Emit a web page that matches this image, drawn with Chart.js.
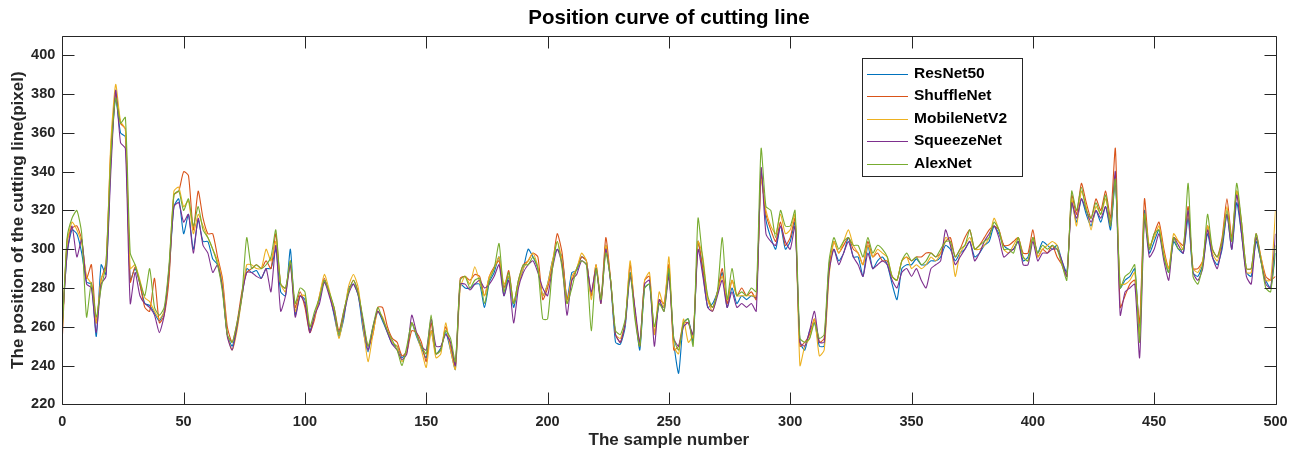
<!DOCTYPE html>
<html>
<head>
<meta charset="utf-8">
<script src="https://cdn.jsdelivr.net/npm/chart.js@4.4.1/dist/chart.umd.min.js"></script>
<style>
html,body{margin:0;padding:0;background:#fff;}
canvas{display:block;}
</style>
</head>
<body>
<canvas id="c" width="1299" height="452"></canvas>
<script>
// ---- Data (every 2nd sample) ----
const samples = Array.from({length: 251}, (_, i) => i * 2);
const seriesNames = ['ResNet50', 'ShuffleNet', 'MobileNetV2', 'SqueezeNet', 'AlexNet'];
const xTicks = [0, 50, 100, 150, 200, 250, 300, 350, 400, 450, 500];
const yTicks = [220, 240, 260, 280, 300, 320, 340, 360, 380, 400];
const titleText = 'Position curve of cutting line';
const xLabelText = 'The sample number';
const yLabelText = 'The position of the cutting line(pixel)';

const resnet50 = [
262,298,310,308,298,283,282,255,292,287,345,378,360,358,284,290,282,272,271,267,263,268,288,322,326,
308,318,300,315,304,304,295,292,280,256,250,260,275,290,288,289,285,290,290,300,278,276,300,266,276,
274,258,266,274,284,278,266,255,264,280,282,276,258,247,259,268,263,257,251,250,244,248,262,255,249,
244,258,246,249,257,248,238,282,280,280,282,282,270,283,288,296,276,286,270,282,290,300,296,290,276,
282,294,300,296,274,288,289,296,294,276,290,274,302,283,252,251,260,288,268,248,280,282,256,272,270,
288,252,236,262,264,252,304,288,270,272,278,288,270,280,272,276,274,276,275,340,315,306,300,312,300,
304,314,252,248,258,262,250,250,292,300,294,298,306,296,296,286,302,290,294,296,292,282,274,290,292,
292,295,292,292,294,294,296,302,300,294,298,300,304,296,298,302,304,312,308,302,300,300,304,294,296,
306,298,304,302,300,302,294,288,324,314,326,318,312,320,314,322,310,335,280,284,286,290,258,320,298,
304,310,296,288,304,300,298,316,288,286,292,308,296,292,300,318,300,324,308,288,286,304,294,284,280,
298];

const shufflenet = [
254,305,311,312,305,285,292,262,284,293,352,380,365,362,283,291,282,270,268,285,262,266,285,328,330,
340,338,310,330,316,308,308,296,285,260,252,262,278,288,290,292,290,294,290,308,282,280,292,270,278,
270,257,264,276,285,277,270,258,268,278,284,278,262,250,256,270,270,260,254,252,245,247,258,257,252,
242,262,246,248,260,250,240,285,286,284,287,286,276,286,291,294,280,289,272,284,292,294,298,296,274,
280,292,308,298,274,284,290,296,294,276,292,274,306,284,256,252,262,292,268,250,284,286,256,274,272,
292,248,250,262,262,254,304,290,274,270,278,290,272,284,276,280,276,278,274,338,318,310,304,314,302,
306,316,250,252,256,264,252,254,290,304,298,302,306,300,298,292,304,296,298,294,294,286,284,294,296,
294,296,296,298,298,296,298,304,306,296,300,306,310,300,302,306,310,312,310,302,302,304,306,298,298,
310,296,300,298,302,296,292,286,328,318,334,324,316,326,320,330,316,352,270,276,282,284,262,326,300,
308,314,300,290,306,304,302,322,290,290,294,312,300,296,306,326,306,330,314,290,290,308,296,286,284,
286];

const mobilenetv2 = [
260,303,314,310,303,286,282,262,285,290,355,385,366,362,290,292,284,275,273,268,264,268,290,330,332,
322,325,308,318,312,306,300,294,283,256,248,258,275,292,292,290,290,300,294,304,282,278,294,268,276,
276,260,265,276,287,279,268,254,266,281,287,280,260,242,256,268,265,258,252,250,242,248,262,256,248,
239,258,244,246,262,248,238,280,286,282,291,283,276,286,290,296,282,286,272,282,290,294,298,291,276,
282,294,304,294,272,286,290,298,294,274,292,272,302,284,256,254,262,294,268,252,284,288,256,278,270,
296,250,246,264,252,256,304,296,274,268,278,286,274,284,276,276,276,276,276,336,320,312,308,318,308,
310,318,240,250,254,264,245,248,286,304,298,304,310,302,298,292,302,296,300,298,296,286,284,294,296,
290,292,290,292,296,294,298,306,304,286,298,302,306,300,300,302,306,316,310,300,298,302,306,296,294,
306,296,300,302,304,302,292,286,326,312,330,322,310,322,318,326,314,338,282,282,284,288,256,318,302,
306,312,298,290,308,304,300,320,290,288,294,312,298,294,304,322,304,330,312,288,288,306,296,284,284,
320];

const squeezenet = [
262,298,312,296,305,282,280,257,282,286,340,382,355,352,272,288,276,272,270,266,257,266,290,322,324,
314,318,298,316,302,298,288,292,280,255,248,260,276,288,288,286,285,290,278,302,268,276,292,265,276,
272,257,266,272,283,276,267,257,266,277,282,276,262,248,260,268,264,257,251,248,243,246,266,257,250,
248,264,250,250,256,252,240,282,282,279,282,284,280,282,286,292,276,284,262,280,288,292,294,288,280,
276,290,300,292,266,284,287,294,292,278,290,272,300,283,256,252,262,286,270,252,282,284,250,274,268,
286,254,250,260,262,256,300,286,270,268,276,284,270,278,270,272,270,272,268,342,308,304,302,312,304,
300,312,252,250,258,268,252,252,288,300,292,298,304,296,292,286,298,290,292,294,292,284,280,288,290,
286,290,284,280,290,292,294,310,302,292,296,300,304,294,298,304,308,312,306,296,298,300,304,292,292,
304,294,298,298,300,300,294,286,324,316,326,320,314,320,316,322,312,340,266,278,280,282,244,316,296,
300,308,294,284,306,302,298,320,288,284,290,310,296,290,302,318,300,328,308,286,282,306,294,282,280,
308];

const alexnet = [
258,306,316,320,308,265,283,265,280,292,348,378,365,368,298,292,283,276,290,270,266,270,292,328,330,
320,326,312,322,310,306,300,292,278,256,252,262,276,306,290,292,290,292,296,310,282,280,294,272,280,
278,260,268,275,284,278,270,256,268,278,284,277,264,250,260,270,264,258,253,248,240,250,262,256,250,
246,266,246,248,258,254,242,284,286,280,284,285,272,284,290,303,278,288,272,284,292,292,296,290,264,
264,290,304,290,272,280,290,294,292,258,290,274,298,284,258,256,264,288,264,250,280,282,260,272,268,
290,254,248,262,264,250,316,294,276,270,278,306,274,290,276,278,276,280,278,352,322,320,306,320,312,
312,320,254,252,254,262,254,256,294,306,300,304,306,302,302,296,306,298,302,300,296,286,284,294,298,
294,296,292,294,298,296,300,304,304,296,300,302,310,300,302,304,306,314,310,300,300,298,306,296,294,
306,298,302,300,302,300,292,284,330,320,332,320,316,324,318,328,312,336,280,286,288,292,252,318,300,
308,310,296,288,306,300,300,334,286,282,292,318,300,296,304,320,304,334,314,290,290,308,294,280,278,
302];

const seriesValues = [resnet50, shufflenet, mobilenetv2, squeezenet, alexnet];
const seriesColors = ['#0072BD', '#D95319', '#EDB120', '#7E2F8E', '#77AC30'];

// ---- Styling ----
const FONT = '"Liberation Sans", Arial, Helvetica, sans-serif';
const AXIS_COLOR = '#262626';

const datasets = seriesNames.map((name, i) => ({
  label: name,
  data: samples.map((s, k) => ({x: s, y: seriesValues[i][k]})),
  borderColor: seriesColors[i],
  backgroundColor: seriesColors[i],
  borderWidth: 1.1,
  pointRadius: 0,
  tension: 0.2,
  fill: false,
  order: seriesNames.length - 1 - i
}));

const framePlugin = {
  id: 'matlabFrame',
  afterDraw(chart) {
    const {ctx, chartArea: a, scales} = chart;
    const x = scales.x, y = scales.y;
    ctx.save();
    ctx.strokeStyle = AXIS_COLOR;
    ctx.lineWidth = 1;
    const L = Math.round(a.left) + 0.5, R = Math.round(a.right) + 0.5;
    const T = Math.round(a.top) + 0.5, B = Math.round(a.bottom) + 0.5;
    ctx.beginPath();
    ctx.rect(L, T, R - L, B - T);
    ctx.stroke();
    const TL = 12;
    ctx.beginPath();
    xTicks.forEach(v => {
      const px = Math.round(x.getPixelForValue(v)) + 0.5;
      ctx.moveTo(px, B); ctx.lineTo(px, B - TL);
      ctx.moveTo(px, T); ctx.lineTo(px, T + TL);
    });
    yTicks.forEach(v => {
      const py = Math.round(y.getPixelForValue(v)) + 0.5;
      ctx.moveTo(L, py); ctx.lineTo(L + TL, py);
      ctx.moveTo(R, py); ctx.lineTo(R - TL, py);
    });
    ctx.stroke();

    // Title
    ctx.fillStyle = '#000';
    ctx.textAlign = 'center';
    ctx.textBaseline = 'middle';
    ctx.font = 'bold 20.5px ' + FONT;
    ctx.fillText(titleText, (a.left + a.right) / 2, 18);
    // X label
    ctx.fillStyle = AXIS_COLOR;
    ctx.font = 'bold 17px ' + FONT;
    ctx.fillText(xLabelText, (a.left + a.right) / 2, 440);
    // Y label
    ctx.save();
    ctx.translate(18, (a.top + a.bottom) / 2);
    ctx.rotate(-Math.PI / 2);
    ctx.fillText(yLabelText, 0, 0);
    ctx.restore();

    // Legend
    const bx = 862.5, by = 58.5, bw = 160, bh = 118;
    ctx.fillStyle = '#fff';
    ctx.fillRect(bx, by, bw, bh);
    ctx.strokeStyle = AXIS_COLOR;
    ctx.strokeRect(bx, by, bw, bh);
    ctx.font = 'bold 15.5px ' + FONT;
    ctx.textAlign = 'left';
    ctx.textBaseline = 'middle';
    seriesNames.forEach((name, i) => {
      const ly = 73.5 + i * 22.5;
      ctx.strokeStyle = seriesColors[i];
      ctx.lineWidth = 1;
      ctx.beginPath();
      ctx.moveTo(867, Math.round(ly) + 0.5);
      ctx.lineTo(908, Math.round(ly) + 0.5);
      ctx.stroke();
      ctx.fillStyle = '#000';
      ctx.fillText(name, 914, ly);
    });
    ctx.restore();
  }
};

new Chart(document.getElementById('c'), {
  type: 'line',
  data: {datasets},
  options: {
    responsive: false,
    animation: false,
    devicePixelRatio: 1,
    layout: {padding: {left: 0, right: 23.5, top: 36, bottom: 0}},
    plugins: {
      legend: {display: false},
      title: {display: false},
      tooltip: {enabled: false}
    },
    scales: {
      x: {
        type: 'linear',
        min: 0, max: 500,
        grid: {display: false, drawTicks: false},
        border: {display: false},
        ticks: {color: AXIS_COLOR, padding: 9, maxRotation: 0, font: {family: FONT, size: 14.5, weight: 'bold'}},
        afterBuildTicks: s => { s.ticks = xTicks.map(v => ({value: v})); },
        afterFit: s => { s.height = 47.7; }
      },
      y: {
        type: 'linear',
        min: 220, max: 410,
        grid: {display: false, drawTicks: false},
        border: {display: false},
        ticks: {color: AXIS_COLOR, padding: 7, font: {family: FONT, size: 14.5, weight: 'bold'}},
        afterBuildTicks: s => { s.ticks = yTicks.map(v => ({value: v})); },
        afterFit: s => { s.width = 62.3; }
      }
    }
  },
  plugins: [framePlugin]
});
</script>
</body>
</html>
